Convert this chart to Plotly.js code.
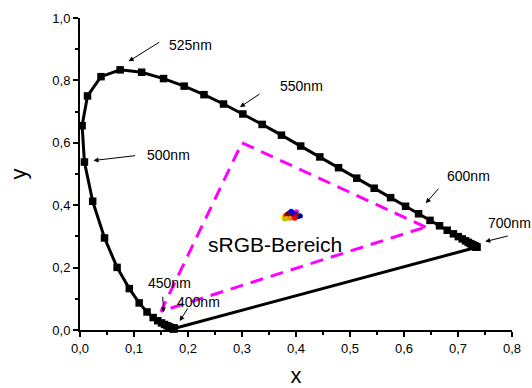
<!DOCTYPE html>
<html>
<head>
<meta charset="utf-8">
<script src="https://cdn.plot.ly/plotly-3.0.1.min.js"></script>
<style>html,body{margin:0;padding:0;background:#fff;}#chart{width:532px;height:388px;}</style>
</head>
<body>
<div id="chart"></div>
<script>
// CIE 1931 spectral locus, 5 nm steps, 380..700 nm
const wavelengths = [380,385,390,395,400,405,410,415,420,425,430,435,440,445,450,455,460,465,470,475,480,485,490,495,500,505,510,515,520,525,530,535,540,545,550,555,560,565,570,575,580,585,590,595,600,605,610,615,620,625,630,635,640,645,650,655,660,665,670,675,680,685,690,695,700];
const locusX = [0.1741,0.1740,0.1738,0.1736,0.1733,0.1730,0.1726,0.1721,0.1714,0.1703,0.1689,0.1669,0.1644,0.1611,0.1566,0.1510,0.1440,0.1355,0.1241,0.1096,0.0913,0.0687,0.0454,0.0235,0.0082,0.0039,0.0139,0.0389,0.0743,0.1142,0.1547,0.1929,0.2296,0.2658,0.3016,0.3373,0.3731,0.4087,0.4441,0.4788,0.5125,0.5448,0.5752,0.6029,0.6270,0.6482,0.6658,0.6801,0.6915,0.7006,0.7079,0.7140,0.7190,0.7230,0.7260,0.7283,0.7300,0.7311,0.7320,0.7327,0.7334,0.7340,0.7344,0.7346,0.7347];
const locusY = [0.0050,0.0050,0.0049,0.0049,0.0048,0.0048,0.0048,0.0048,0.0051,0.0058,0.0069,0.0086,0.0109,0.0138,0.0177,0.0227,0.0297,0.0399,0.0578,0.0868,0.1327,0.2007,0.2950,0.4127,0.5384,0.6548,0.7502,0.8120,0.8338,0.8262,0.8059,0.7816,0.7543,0.7243,0.6923,0.6589,0.6245,0.5896,0.5547,0.5202,0.4866,0.4544,0.4242,0.3965,0.3725,0.3514,0.3340,0.3197,0.3083,0.2993,0.2920,0.2859,0.2809,0.2770,0.2740,0.2717,0.2700,0.2689,0.2680,0.2673,0.2666,0.2660,0.2656,0.2654,0.2653];

// line of purples: 700 nm back to 380 nm
const purpleX = [0.7347, 0.1741];
const purpleY = [0.2653, 0.0050];

// sRGB gamut triangle (R, G, B, R)
const srgbX = [0.64, 0.30, 0.15, 0.64];
const srgbY = [0.33, 0.60, 0.06, 0.33];

// measured colour points cluster
const clusterX = [0.376,0.379,0.381,0.384,0.386,0.388,0.390,0.391,0.393,0.395,0.397,0.399,0.401,0.403,0.405,0.408,0.387,0.392,0.396,0.400,0.389,0.394,0.382,0.398];
const clusterY = [0.362,0.356,0.367,0.372,0.361,0.376,0.366,0.381,0.370,0.360,0.374,0.366,0.379,0.363,0.369,0.365,0.369,0.373,0.364,0.371,0.358,0.377,0.357,0.358];
const clusterColors = ['#ffff00','#c0c000','#ff0000','#800000','#ffa500','#000080','#800000','#0000ff','#800000','#ff0000','#800000','#800000','#ff00ff','#000080','#00c0ff','#000080','#800000','#800000','#800000','#a00000','#ff8000','#0000ff','#c0c000','#ff0000'];

// labels
const labelTexts = ['525nm','550nm','500nm','600nm','700nm','450nm','400nm'];
const areaLabel = 'sRGB-Bereich';

const traces = [
  {x: srgbX, y: srgbY, mode: 'lines', line: {color: '#ff00ff', width: 3, dash: '13px,8px'}, hoverinfo: 'skip', cliponaxis: false},
  {x: purpleX, y: purpleY, mode: 'lines', line: {color: '#000', width: 3}, hoverinfo: 'skip', cliponaxis: false},
  {x: locusX, y: locusY, mode: 'lines+markers', line: {color: '#000', width: 3}, marker: {symbol: 'square', size: 7.5, color: '#000'}, cliponaxis: false},
  {x: clusterX, y: clusterY, mode: 'markers', marker: {size: 5, color: clusterColors}, cliponaxis: false}
];

const arrowSpec = [
  // [headX, headY, ax, ay]
  [0.0902, 0.8612, 32, -20],
  [0.2963, 0.7145, 21, -14],
  [0.0250, 0.5432, 43, -5],
  [0.6404, 0.4065, 14, -16],
  [0.7505, 0.2833, 24, -6],
  [0.1549, 0.0568, -1, -17],
  [0.1846, 0.0289, 9, -14]
];
const textSpec = [
  // [x, y, anchor]
  [0.1605, 0.914, 'left'],
  [0.3659, 0.7806, 'left'],
  [0.1197, 0.5614, 'left'],
  [0.6750, 0.4940, 'left'],
  [0.7523, 0.3423, 'left'],
  [0.1660, 0.1517, 'center'],
  [0.1753, 0.0908, 'left']
];

const annotations = [];
arrowSpec.forEach(a => annotations.push({x: a[0], y: a[1], xref: 'x', yref: 'y', ax: a[2], ay: a[3], text: '', showarrow: true, arrowhead: 2, arrowsize: 1, arrowwidth: 1, arrowcolor: '#000', standoff: 0}));
textSpec.forEach((t, i) => annotations.push({x: t[0], y: t[1], xref: 'x', yref: 'y', text: labelTexts[i], showarrow: false, xanchor: t[2], yanchor: 'middle', font: {family: 'Liberation Sans, Arial, sans-serif', size: 14, color: '#000'}}));
annotations.push({x: 0.3620, y: 0.2727, xref: 'x', yref: 'y', text: areaLabel, showarrow: false, xanchor: 'center', yanchor: 'middle', font: {family: 'Liberation Sans, Arial, sans-serif', size: 21, color: '#000'}});

const layout = {
  width: 532, height: 388,
  margin: {l: 80, r: 20, t: 18, b: 58, pad: 0},
  paper_bgcolor: '#fff', plot_bgcolor: '#fff',
  showlegend: false,
  separators: ',.',
  font: {family: 'Liberation Sans, Arial, sans-serif', color: '#000'},
  xaxis: {
    range: [0, 0.8], dtick: 0.1, tick0: 0, tickformat: '.1f',
    showgrid: false, zeroline: false, showline: true, linecolor: '#000', linewidth: 2,
    ticks: 'outside', ticklen: 5, tickwidth: 2, tickcolor: '#000',
    minor: {dtick: 0.05, ticks: 'outside', ticklen: 3, tickwidth: 2, tickcolor: '#000', showgrid: false},
    tickfont: {size: 13},
    title: {text: 'x', font: {size: 22}, standoff: 14}
  },
  yaxis: {
    range: [0, 1.0], dtick: 0.2, tick0: 0, tickformat: '.1f',
    showgrid: false, zeroline: false, showline: true, linecolor: '#000', linewidth: 2,
    ticks: 'outside', ticklen: 5, tickwidth: 2, tickcolor: '#000',
    minor: {dtick: 0.1, ticks: 'outside', ticklen: 3, tickwidth: 2, tickcolor: '#000', showgrid: false},
    tickfont: {size: 13},
    title: {text: 'y', font: {size: 22}, standoff: 20}
  },
  annotations: annotations
};

Plotly.newPlot('chart', traces, layout, {displayModeBar: false, staticPlot: true});
</script>
</body>
</html>
